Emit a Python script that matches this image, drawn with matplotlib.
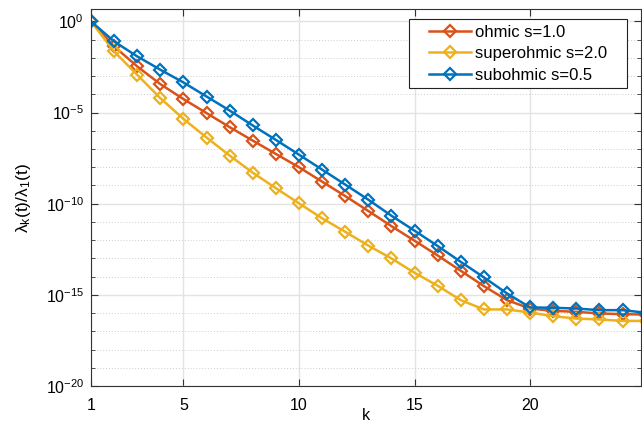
import numpy as np
import matplotlib.pyplot as plt
from matplotlib.patches import Rectangle
from matplotlib.ticker import FixedLocator, LogFormatterSciNotation, NullFormatter

plt.rcParams['font.family'] = ['Liberation Sans', 'DejaVu Sans']
plt.rcParams['mathtext.fontset'] = 'custom'
plt.rcParams['mathtext.rm'] = 'Liberation Sans'
plt.rcParams['mathtext.it'] = 'Liberation Sans'

# eigenvalue ratios as log10 exponents
k = np.arange(1, 26)
log_ohmic = [0, -1.37, -2.47, -3.44, -4.26, -5.03, -5.80, -6.54, -7.27, -8.0,
             -8.79, -9.58, -10.40, -11.23, -12.03, -12.84, -13.68, -14.52, -15.29, -15.75,
             -15.88, -15.93, -16.02, -16.06, -16.08]
log_super = [0, -1.65, -2.93, -4.21, -5.35, -6.37, -7.36, -8.30, -9.15, -9.98,
             -10.80, -11.54, -12.30, -13.0, -13.79, -14.50, -15.29, -15.80, -15.80, -15.97,
             -16.17, -16.30, -16.35, -16.43, -16.43]
log_sub = [0, -1.10, -1.92, -2.65, -3.35, -4.12, -4.89, -5.71, -6.5, -7.31,
           -8.13, -8.95, -9.78, -10.66, -11.48, -12.32, -13.19, -14.04, -14.92, -15.69,
           -15.71, -15.75, -15.84, -15.84, -15.98]

labels = ['ohmic s=1.0', 'superohmic s=2.0', 'subohmic s=0.5']
colors = ['#D95319', '#EDB120', '#0072BD']

W, H = 642, 424
fig = plt.figure(figsize=(W / 100, H / 100), dpi=100)
ax = fig.add_axes([91/W, 1 - 386/H, 550/W, 377/H])

for vals, lab, c in zip([log_ohmic, log_super, log_sub], labels, colors):
    ax.semilogy(k, 10.0 ** np.array(vals), color=c, lw=1.8, marker='D', ms=6,
                mfc='none', mew=1.6, label=lab)

ax.set_xlim(1, 24.8)
ax.set_ylim(1e-20, 10 ** 0.68)
ax.set_xticks([1, 5, 10, 15, 20])
ax.yaxis.set_major_locator(FixedLocator([1e-20, 1e-15, 1e-10, 1e-5, 1e0]))
ax.yaxis.set_major_formatter(LogFormatterSciNotation())
ax.yaxis.set_minor_locator(FixedLocator([10.0 ** e for e in range(-19, 1) if e % 5 != 0]))
ax.yaxis.set_minor_formatter(NullFormatter())

ax.grid(True, which='major', color='#e3e3e3', lw=1, ls='-')
ax.grid(True, which='minor', axis='y', color='#cccccc', lw=0.7, ls=(0, (1, 2)))
ax.set_axisbelow(True)

ax.tick_params(which='both', direction='in', top=True, right=True, labelsize=11.5,
               color='#333333', length=5)
ax.tick_params(which='minor', length=3)
ax.tick_params(axis='x', pad=9)
ax.tick_params(axis='y', pad=5)
for s in ax.spines.values():
    s.set_color('#333333')
    s.set_linewidth(0.8)

ax.set_xlabel('k', fontsize=11.5, labelpad=-4)
ax.set_ylabel(r'$\mathregular{\lambda_k(t)/\lambda_1(t)}$', fontsize=12.5, labelpad=9)

# MATLAB-style legend box: wide side padding, tight top/bottom
box = Rectangle((409/W, 1 - 88/H), 218/W, 69/H, transform=fig.transFigure,
                facecolor='white', edgecolor='#222222', lw=0.8, zorder=4.5,
                clip_on=False)
ax.add_patch(box)
leg = ax.legend(loc='upper left', bbox_to_anchor=(429/W, 1 - 25/H),
                bbox_transform=fig.transFigure, fontsize=12, frameon=False,
                borderaxespad=0, borderpad=0, handlelength=2.5, handletextpad=0.25,
                labelspacing=0.38)
leg.set_zorder(5)

fig.savefig('out.png', dpi=100)
